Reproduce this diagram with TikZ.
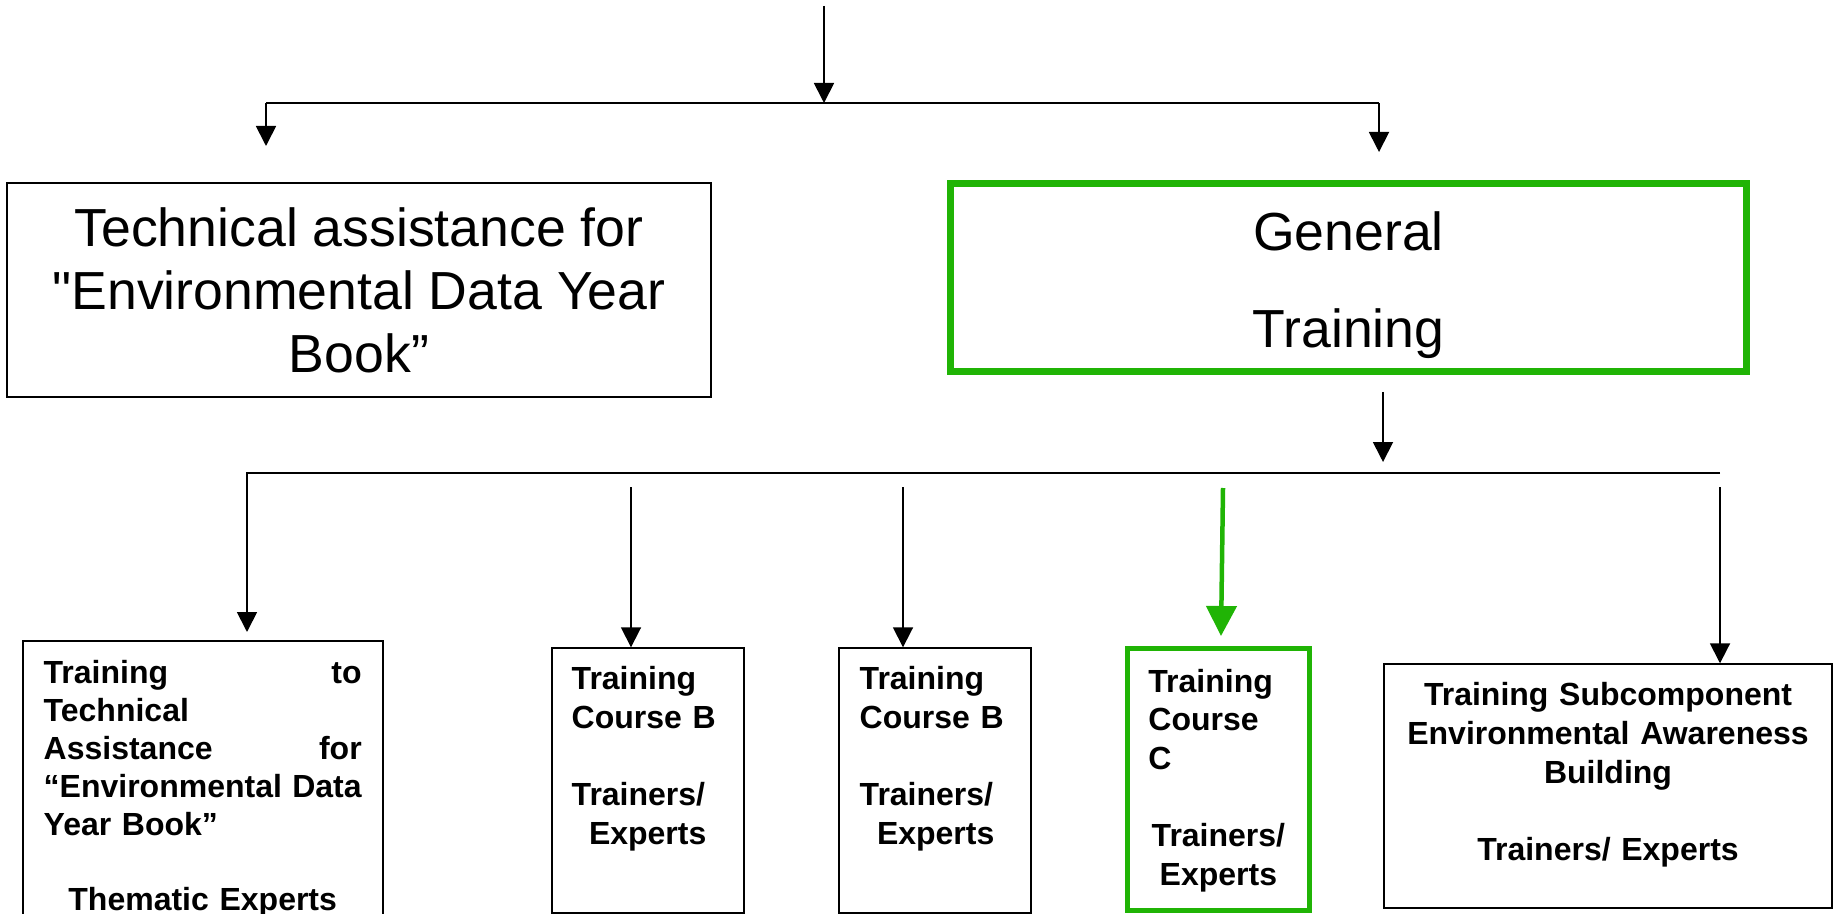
\documentclass[tikz,border=0pt]{standalone}
\usepackage{fontspec}
\setmainfont{Liberation Sans}[Ligatures=TeXOff]
\usetikzlibrary{arrows.meta,positioning}
\definecolor{trgreen}{RGB}{32,180,5}

\tikzset{
  box/.style={draw, line width=0.7pt, inner sep=0pt},
  grbox/.style={draw=trgreen, inner sep=0pt},
  bigtxt/.style={font=\fontsize{26.8}{31.5}\selectfont, align=center},
  smalltxt/.style={font=\bfseries\fontsize{16}{19.3}\selectfont, inner sep=0pt},
  arr/.style={line width=0.9pt, -{Triangle[width=10pt,length=10pt]}},
}

\begin{document}
\begin{tikzpicture}[x=0.5pt,y=-0.5pt]
  \useasboundingbox (0,0) rectangle (1835,914);
  \clip (0,0) rectangle (1835,914);

  % upper level
  \node[box, bigtxt, minimum width=352pt, minimum height=107pt] (tabox) at (359,290)
    {Technical assistance for\\"Environmental Data Year\\Book”};
  \node[grbox, line width=3.5pt, minimum width=398pt, minimum height=94pt] (gtbox) at (1348.5,277.5) {};
  \node[font=\fontsize{26.8}{48.5}\selectfont, align=center] (gttext) at ([yshift=-4pt]gtbox.center)
    {General\\Training};

  % lower level boxes
  \node[box, minimum width=180pt, minimum height=159.5pt] (ttbox) at (203,800.5) {};
  \node[box, minimum width=96pt, minimum height=132.5pt] (cb1box) at (648,780.5) {};
  \node[box, minimum width=96pt, minimum height=132.5pt] (cb2box) at (935,780.5) {};
  \node[grbox, line width=2.5pt, minimum width=91pt, minimum height=130.75pt] (ccbox) at (1218.5,779.25) {};
  \node[box, minimum width=224pt, minimum height=122pt] (eabox) at (1608,786) {};

  \node[smalltxt, font=\bfseries\fontsize{16}{19}\selectfont, text width=159pt, align=left,
        below right=10pt and 10.5pt of ttbox.north west] (tttext)
    {Training\hfill to\\Technical\\Assistance\hfill for\\“Environmental\hfill Data\\Year Book”\\[18.5pt]\hfill Thematic Experts\hfill\null};
  \node[smalltxt, text width=76pt, align=left, below right=9.5pt and 10pt of cb1box.north west] (cb1text)
    {Training\\Course B\\[19.3pt]Trainers/\\\hfill Experts\hfill\null};
  \node[smalltxt, text width=76pt, align=left, below right=9.5pt and 10.5pt of cb2box.north west] (cb2text)
    {Training\\Course B\\[19.3pt]Trainers/\\\hfill Experts\hfill\null};
  \node[smalltxt, text width=70pt, align=left, below right=11.25pt and 11.5pt of ccbox.north west] (cctext)
    {Training\\Course\\C\\[19.3pt]\hfill Trainers/\hfill\null\\\hfill Experts\hfill\null};
  \node[smalltxt, text width=210pt, align=center, below=9.5pt of eabox.north] (eatext)
    {Training Subcomponent\\Environmental Awareness\\Building\\[19.3pt]Trainers/ Experts};

  % connectors, upper fork
  \coordinate (top) at (824,6);
  \coordinate (fork) at (824,103);
  \coordinate (forkl) at (266,103);
  \coordinate (forkr) at (1379,103);
  \coordinate (tatip) at (266,146);
  \coordinate (gttip) at (1379,152);
  \draw[arr] (top) -- (fork);
  \draw[line width=0.9pt] (forkl) -- (forkr);
  \draw[arr] (forkl) -- (tatip);
  \draw[arr] (forkr) -- (gttip);

  % connectors, lower fork
  \coordinate (gtout) at (1383,392);
  \coordinate (bartip) at (1383,462);
  \coordinate (barl) at (247,473);
  \coordinate (barr) at (1720,473);
  \coordinate (tttip) at (247,632);
  \coordinate (ccstart) at (1223,488);
  \coordinate (cctip) at (1221,636);
  \draw[arr] (gtout) -- (bartip);
  \draw[arr] (barr) -- (barl) -- (tttip);
  \foreach \n/\x in {cb1box/631, cb2box/903, eabox/1720}
    \draw[arr] (\x,487) -- (\x,487 |- \n.north);
  \draw[trgreen, line width=2.25pt, -{Triangle[width=15pt,length=15pt]}] (ccstart) -- (cctip);
\end{tikzpicture}
\end{document}
